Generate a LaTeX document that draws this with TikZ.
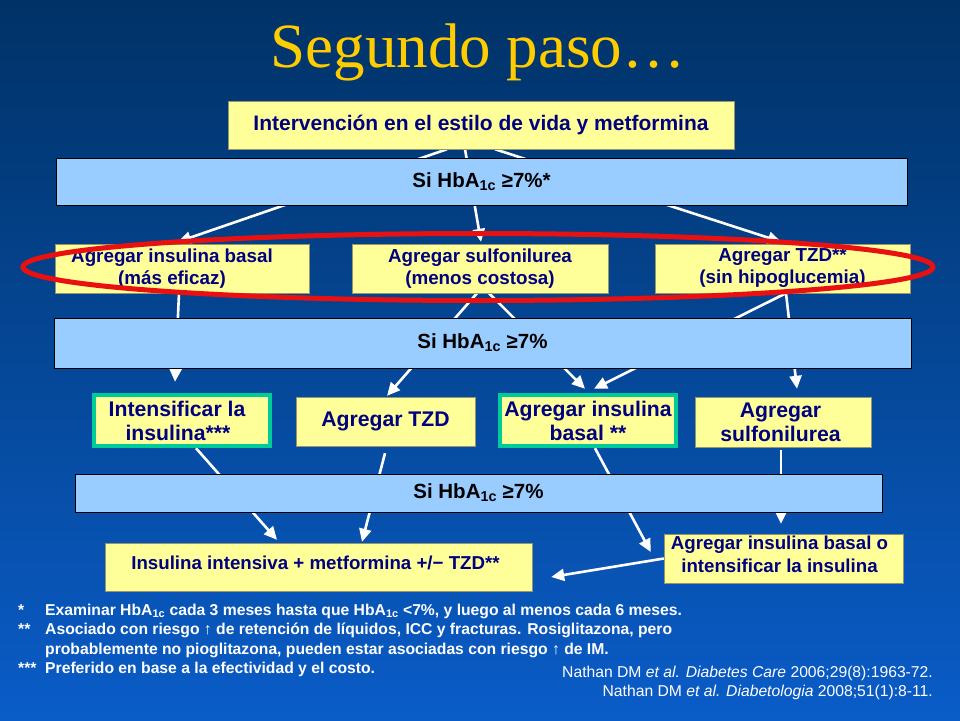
\documentclass[tikz,border=0pt]{standalone}
\usepackage{fontspec}
\setmainfont{Liberation Sans}
\newfontfamily\titlefont{Liberation Serif}
\usetikzlibrary{arrows.meta,calc}
\definecolor{bgtop}{RGB}{0,50,102}
\definecolor{bgbot}{RGB}{10,92,200}
\definecolor{boxyellow}{RGB}{255,255,153}
\definecolor{barblue}{RGB}{153,204,255}
\definecolor{navytext}{RGB}{0,0,128}
\definecolor{greenborder}{RGB}{0,204,153}
\definecolor{titleyellow}{RGB}{255,204,0}
\definecolor{ovalred}{RGB}{232,16,16}
\definecolor{boxline}{RGB}{150,150,110}
\newcommand{\liftup}{\rule[-8pt]{0pt}{8pt}}
\tikzset{
  sz/.style n args={2}{minimum width=#1pt, minimum height=#2pt},
  ybox/.style={draw=boxline, line width=0.8pt, fill=boxyellow, text=navytext, align=center, inner sep=0pt},
  gbox/.style={ybox, draw=greenborder, line width=4pt},
  bbar/.style={draw=black, line width=0.8pt, fill=barblue, text=black, align=center, inner sep=0pt},
  flow/.style={draw=white, line width=2.6pt, -{Triangle[length=13pt,width=12pt]}},
  fA/.style={font=\bfseries\fontsize{21}{24}\selectfont},
  fB/.style={font=\bfseries\fontsize{20.5}{24}\selectfont},
  fC/.style={font=\bfseries\fontsize{18.8}{22}\selectfont},
  fD/.style={font=\bfseries\fontsize{21.2}{24}\selectfont},
  fE/.style={font=\bfseries\fontsize{18.7}{23}\selectfont},
  note/.style={anchor=base west, text=white, inner sep=0pt, font=\bfseries\fontsize{15.7}{18}\selectfont},
  cite/.style={anchor=base east, text=white, inner sep=0pt, font=\fontsize{15.7}{18}\selectfont}
}
\begin{document}
\begin{tikzpicture}[x=1pt,y=-1pt]
\useasboundingbox (0,0) rectangle (960,720);
\shade[top color=bgtop, bottom color=bgbot] (0,0) rectangle (960,720);

\node[font=\titlefont\fontsize{63}{70}\selectfont, text=titleyellow, anchor=base, inner sep=0pt] (title) at (478,67) {Segundo paso…};

% node placement (for connector anchors)
\path
  (481,125) node[sz={506}{48}, inner sep=0pt] (top) {}
  (481.5,181.5) node[sz={851}{47}, inner sep=0pt] (bar1) {}
  (182,268.5) node[sz={254}{49}, inner sep=0pt] (b21) {}
  (480,268.5) node[sz={256}{49}, inner sep=0pt] (b22) {}
  (782.5,268.5) node[sz={255}{49}, inner sep=0pt] (b23) {}
  (482.5,343) node[sz={857}{50}, inner sep=0pt] (bar2) {}
  (182,420.5) node[sz={176}{51}, inner sep=0pt] (b31) {}
  (385.5,421.5) node[sz={179}{49}, inner sep=0pt] (b32) {}
  (588,420.5) node[sz={176}{51}, inner sep=0pt] (b33) {}
  (783,422) node[sz={176}{50}, inner sep=0pt] (b34) {}
  (478.5,493) node[sz={807}{38}, inner sep=0pt] (bar3) {}
  (318.5,567) node[sz={427}{48}, inner sep=0pt] (b41) {}
  (783.5,558.5) node[sz={239}{49}, inner sep=0pt] (b42) {};

% connectors (behind boxes)
\draw[flow] ($(top.south)+(-34,0)$) -- ($(b21.north)+(-4,-2)$);
\draw[flow] ($(top.south)+(-16,0)$) -- ($(b22.north)+(1,-2)$);
\draw[flow] ($(top.south)+(14,0)$) -- ($(b23.north)+(-1.5,-2)$);
\draw[flow] ($(b21.south)+(-3,0)$) -- ($(b31.north)+(-7,-13)$);
\draw[flow] ($(b22.south)+(-3,0)$) -- ($(b32.north)+(1.5,-1)$);
\draw[flow] ($(b22.south)+(9,0)$) -- ($(b33.north)+(-3,-6)$);
\draw[flow] ($(b23.south)+(3.5,0)$) -- ($(b33.north)+(6,-6)$);
\draw[flow] ($(b23.south)+(3.5,0)$) -- ($(b34.north)+(14,-8)$);
\draw[flow] ($(b31.south)+(14,2)$) -- ($(b41.north)+(-41.5,-3)$);
\draw[flow] ($(b32.south)+(-0.5,7)$) -- ($(b41.north)+(43.5,-1)$);
\draw[flow] ($(b33.south)+(7,2)$) -- ($(b42.west)+(-13,-6.5)$);
\draw[flow] ($(b34.south)+(-2,3)$) -- ($(b42.north)+(-2.5,-10)$);
\draw[flow] (b42.west) -- ($(b41.east)+(19,10)$);

% boxes drawn over the connectors
\path
  (top) node[ybox, sz={506}{48}, fA] (topbox) {Intervención en el estilo de vida y metformina}
  (bar1) node[bbar, sz={851}{47}, fB] (bar1box) {Si HbA\textsubscript{1c} ≥7\%*}
  (b21) node[ybox, sz={254}{49}, fC] (b21box) {Agregar insulina basal\hspace*{20pt}\\(más eficaz)\hspace*{20pt}}
  (b22) node[ybox, sz={256}{49}, fC] (b22box) {Agregar sulfonilurea\\(menos costosa)}
  (b23) node[ybox, sz={255}{49}, fC] (b23box) {Agregar TZD**\\(sin hipoglucemia)}
  (bar2) node[bbar, sz={857}{50}, fB] (bar2box) {Si HbA\textsubscript{1c} ≥7\%}
  (b31) node[gbox, sz={176}{51}, fD] (b31box) {Intensificar la\hspace*{10pt}\\insulina***\hspace*{8pt}}
  (b32) node[ybox, sz={179}{49}, fD] (b32box) {Agregar TZD}
  (b33) node[gbox, sz={176}{51}, fD] (b33box) {Agregar insulina\\basal **}
  (b34) node[ybox, sz={176}{50}, fD] (b34box) {Agregar\hspace*{5pt}\\sulfonilurea\hspace*{5pt}}
  (bar3) node[bbar, sz={807}{38}, fB] (bar3box) {Si HbA\textsubscript{1c} ≥7\%}
  (b41) node[ybox, sz={427}{48}, fE] (b41box) {Insulina intensiva + metformina +/− TZD**\hspace*{6pt}\liftup}
  (b42) node[ybox, sz={239}{49}, fE] (b42box) {Agregar insulina basal o\hspace*{8pt}\\intensificar la insulina\hspace*{8pt}\liftup};

\draw[draw=ovalred, line width=5pt] (478,267) ellipse [x radius=455, y radius=33.5];

% footnotes
\node[note] (m1) at (18,615) {*};
\node[note] (n1) at (45,615) {Examinar HbA\textsubscript{1c} cada 3 meses hasta que HbA\textsubscript{1c} <7\%, y luego al menos cada 6 meses.};
\node[note] (m2) at (18,634) {**};
\node[note] (n2) at (45,634) {Asociado con riesgo ↑ de retención de líquidos, ICC y fracturas. Rosiglitazona, pero};
\node[note] (n3) at (45,654) {probablemente no pioglitazona, pueden estar asociadas con riesgo ↑ de IM.};
\node[note] (m4) at (18,673) {***};
\node[note] (n4) at (45,673) {Preferido en base a la efectividad y el costo.};

\node[cite] (c1) at (933,677) {Nathan DM \textit{et al. Diabetes Care} 2006;29(8):1963-72.};
\node[cite] (c2) at (933,696) {Nathan DM \textit{et al. Diabetologia} 2008;51(1):8-11.};
\end{tikzpicture}
\end{document}
